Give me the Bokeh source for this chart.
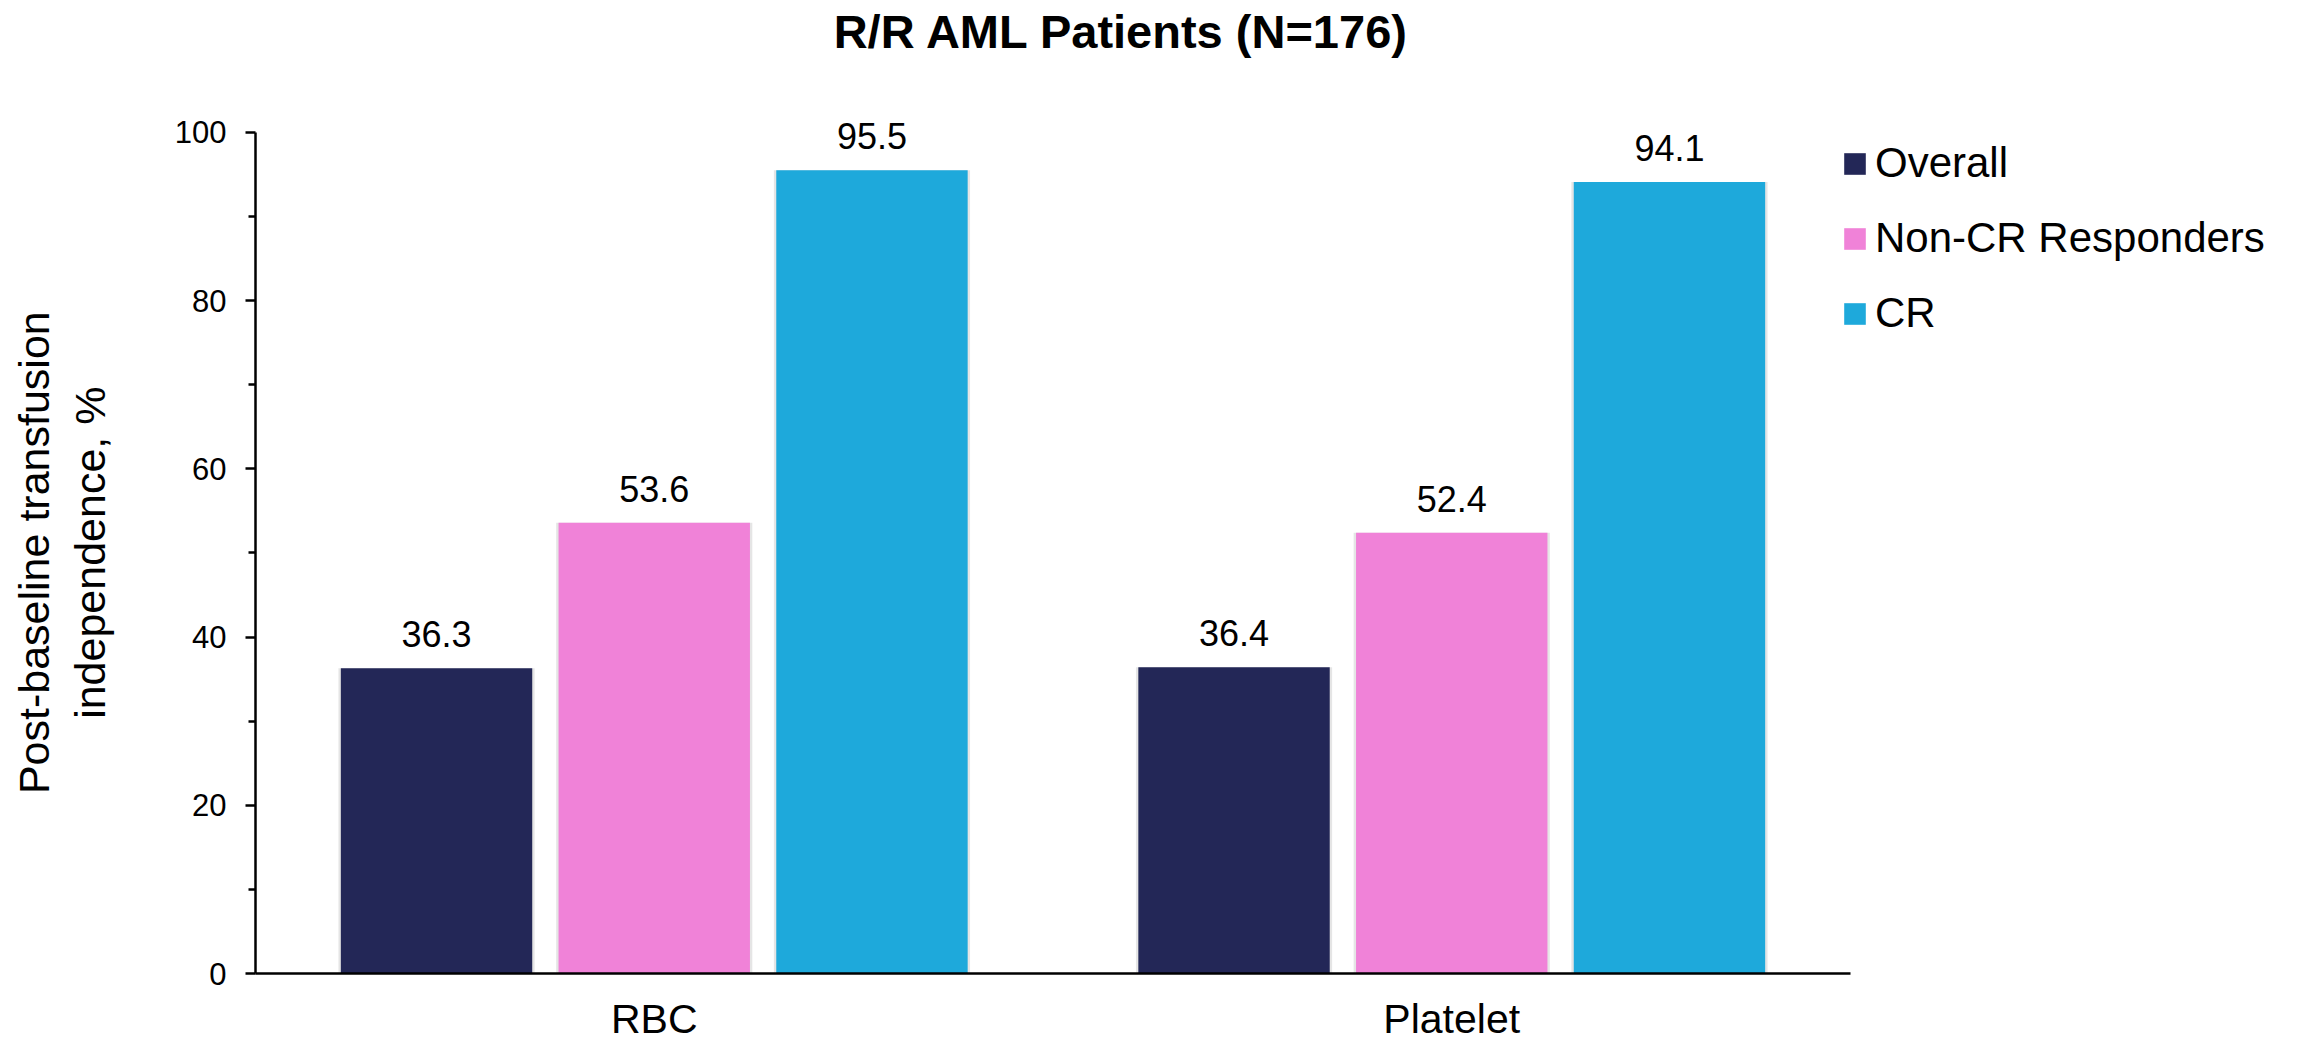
from bokeh.plotting import figure
from bokeh.models import (ColumnDataSource, Range1d, FixedTicker,
                          LabelSet, Label, Legend, LegendItem)
from bokeh.core.properties import value
from bokeh.transform import dodge
from bokeh.embed import file_html
from bokeh.resources import INLINE

# Data
categories = ["RBC", "Platelet"]
series_names = ["Overall", "Non-CR Responders", "CR"]
overall = [36.3, 36.4]
non_cr = [53.6, 52.4]
cr = [95.5, 94.1]
series_colors = ["#232757", "#F082D8", "#1EA9DB"]
y_ticks = [0, 20, 40, 60, 80, 100]
y_minor_ticks = [10, 30, 50, 70, 90]
title_text = "R/R AML Patients (N=176)"
y_label_lines = ["Post-baseline transfusion", "independence, %"]

FONT = "Liberation Sans"
BAR_WIDTH = 0.24
OFFSETS = [-0.273, 0.0, 0.273]
N_CAT = len(categories)
Y_MAX = 100

# category slots sit at 0.5, 1.5, ... on a numeric axis
positions = [i + 0.5 for i in range(N_CAT)]

source = ColumnDataSource(dict(
    pos=positions,
    overall=overall,
    non_cr=non_cr,
    cr=cr,
    overall_txt=[f"{v:.1f}" for v in overall],
    non_cr_txt=[f"{v:.1f}" for v in non_cr],
    cr_txt=[f"{v:.1f}" for v in cr],
))
fields = ["overall", "non_cr", "cr"]

W, H = 2303, 1044
LEFT, BOTTOM = 255, 70
FRAME_W_DATA = 1595          # px used by the category slots
FRAME_H_DATA = 842           # px used by 0..100

p = figure(
    x_range=Range1d(0, N_CAT * (W - LEFT) / FRAME_W_DATA),
    y_range=Range1d(0, Y_MAX * (H - BOTTOM) / FRAME_H_DATA),
    width=W, height=H,
    output_backend="svg", toolbar_location=None,
    min_border_left=LEFT, min_border_right=0,
    min_border_top=0, min_border_bottom=BOTTOM,
)
p.outline_line_color = None
p.xgrid.visible = False
p.ygrid.visible = False
p.background_fill_color = "white"
p.border_fill_color = "white"

items = []
for field, off, color, name in zip(fields, OFFSETS, series_colors, series_names):
    # soft edge behind each bar
    p.vbar(x=dodge("pos", off), top=field, width=BAR_WIDTH + 0.006,
           source=source, fill_color="#000000", fill_alpha=0.10, line_color=None)
    r = p.vbar(x=dodge("pos", off), top=field, width=BAR_WIDTH,
               source=source, fill_color=color, line_color=None)
    items.append(LegendItem(label=name, renderers=[r]))
    p.add_layout(LabelSet(
        x=dodge("pos", off), y=field, text=field + "_txt",
        source=source, y_offset=21, text_align="center", text_baseline="alphabetic",
        text_font=value(FONT), text_font_size=value("36px"), text_color="black",
    ))

# Y axis; the label block is centred on the full frame height, so each line
# carries trailing no-break spaces to centre the words on the 0-100 span
pad = "\u00a0" * 11
ya = p.yaxis[0]
ya.bounds = (0, Y_MAX)
ya.ticker = FixedTicker(ticks=y_ticks, minor_ticks=y_minor_ticks)
ya.axis_label = "\n".join(line + pad for line in y_label_lines)
ya.axis_label_text_font = FONT
ya.axis_label_text_font_size = "43px"
ya.axis_label_text_font_style = "normal"
ya.axis_label_text_color = "black"
ya.axis_label_text_line_height = 1.16
ya.axis_label_standoff = 58
ya.major_label_text_font = FONT
ya.major_label_text_font_size = "31px"
ya.major_label_text_color = "black"
ya.major_label_standoff = 19
ya.axis_line_color = "black"
ya.axis_line_width = 2.5
ya.major_tick_line_color = "black"
ya.major_tick_line_width = 2.5
ya.minor_tick_line_color = "black"
ya.minor_tick_line_width = 2.5
ya.major_tick_out = 10
ya.major_tick_in = 0
ya.minor_tick_out = 7
ya.minor_tick_in = 0

# X axis: category names at the slot centres
xa = p.xaxis[0]
xa.bounds = (0, N_CAT)
xa.ticker = FixedTicker(ticks=positions, minor_ticks=[])
xa.major_label_overrides = {pos: cat for pos, cat in zip(positions, categories)}
xa.major_label_text_font = FONT
xa.major_label_text_font_size = "41px"
xa.major_label_text_color = "black"
xa.major_label_standoff = 22
xa.axis_line_color = "black"
xa.axis_line_width = 2.5
xa.major_tick_out = 0
xa.major_tick_in = 0
xa.minor_tick_line_color = None

# Title
p.add_layout(Label(
    x=1.086, y=112.0, text=title_text, text_align="center", text_baseline="alphabetic",
    text_font=FONT, text_font_size="47px", text_font_style="bold", text_color="black",
))

legend = Legend(
    items=items, location=(1586, 636),
    glyph_width=27, glyph_height=27, label_standoff=7, spacing=27,
    label_text_font=FONT, label_text_font_size="42px", label_text_color="black",
    padding=0, margin=0, border_line_color=None, background_fill_alpha=0,
)
p.add_layout(legend)

open("out.html", "w").write(file_html(p, INLINE))
